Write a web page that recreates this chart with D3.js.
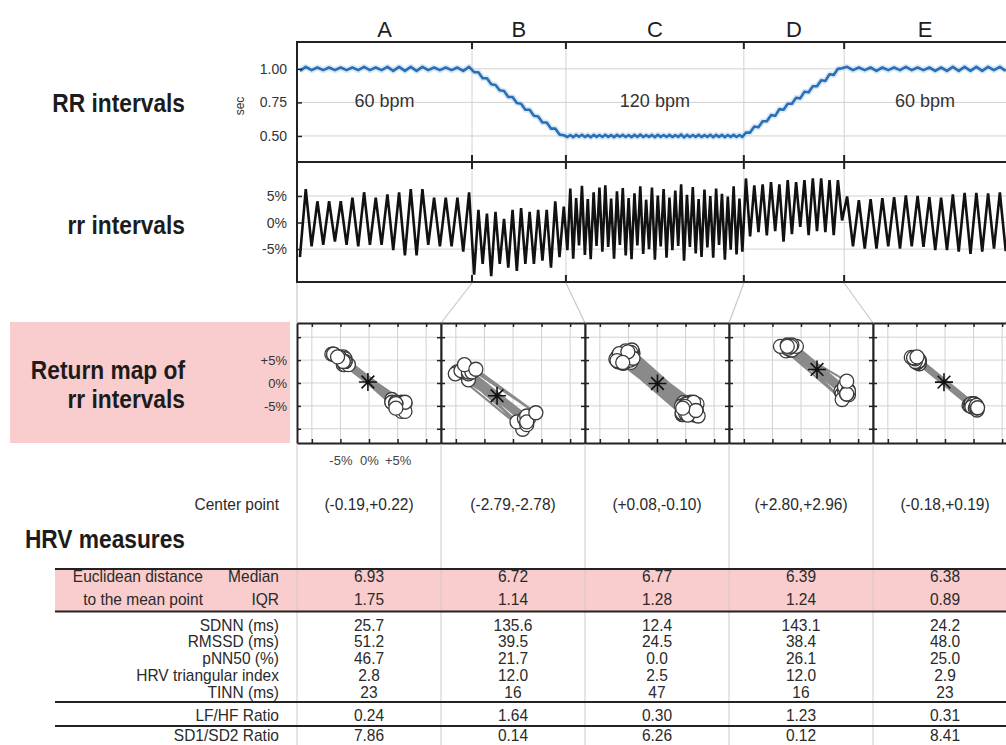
<!DOCTYPE html>
<html>
<head>
<meta charset="utf-8">
<script src="https://cdn.jsdelivr.net/npm/d3@7"></script>
<style>
  body { margin: 0; background: #fff; }
  svg { display: block; font-family: "Liberation Sans", Arial, sans-serif; }
</style>
</head>
<body>
<svg id="chart" width="1006" height="745"></svg>
<script>
// ---------------------------------------------------------------
// Data
// ---------------------------------------------------------------
const segments = ["A", "B", "C", "D", "E"];
// segment limits on the time axis (seconds)
const segmentBounds = [0, 30, 46.1, 76.6, 93.8, 122];
const rateLabels = ["60 bpm", "", "120 bpm", "", "60 bpm"];

// beat-to-beat RR intervals (sec), one array per segment
const RR_A = [0.985, 1.015, 0.99, 1.01, 0.99, 1.01, 0.99, 1.01, 0.99, 1.01,
              0.99, 1.015, 0.99, 1.01, 0.99, 1.015, 0.985, 1.015, 0.985, 1.015,
              0.985, 1.015, 0.99, 1.01, 0.99, 1.01, 0.99, 1.01, 0.985, 1.015];
const RR_B = [0.975, 0.975, 0.93, 0.93, 0.885, 0.88, 0.84, 0.835, 0.79, 0.79,
              0.745, 0.74, 0.695, 0.695, 0.65, 0.645, 0.60, 0.60, 0.555, 0.555,
              0.51, 0.505];
const RR_C = [0.492, 0.507, 0.491, 0.508, 0.494, 0.509, 0.492, 0.506, 0.490, 0.508,
              0.493, 0.507, 0.492, 0.509, 0.493, 0.506, 0.491, 0.508, 0.494, 0.508,
              0.492, 0.507, 0.491, 0.508, 0.493, 0.510, 0.492, 0.506, 0.493, 0.508,
              0.490, 0.509, 0.493, 0.507, 0.492, 0.508, 0.492, 0.506, 0.493, 0.511,
              0.489, 0.508, 0.492, 0.507, 0.493, 0.509, 0.492, 0.506, 0.493, 0.509,
              0.491, 0.508, 0.493, 0.508, 0.491, 0.507, 0.493, 0.508, 0.492, 0.507,
              0.493];
const RR_D = [0.525, 0.525, 0.57, 0.565, 0.61, 0.61, 0.655, 0.65, 0.70, 0.695,
              0.74, 0.74, 0.785, 0.78, 0.83, 0.825, 0.87, 0.87, 0.915, 0.91,
              0.96, 0.955, 1.00, 1.005];
const RR_E = [1.015, 0.99, 1.01, 0.99, 1.01, 0.985, 1.01, 0.99, 1.01, 0.99,
              1.015, 0.99, 1.01, 0.99, 1.01, 0.985, 1.01, 0.985, 1.015, 0.985,
              1.015, 0.985, 1.015, 0.985, 1.015, 0.99, 1.015, 0.985];

// relative rr intervals (%), one value per beat
const rr_A = [-6.5, 6.3, -4.5, 4.0, -4.2, 4.0, -3.6, 4.0, -4.2, 4.7,
              -4.5, 5.7, -4.2, 4.7, -4.2, 5.3, -5.2, 5.7, -6.2, 6.3,
              -6.2, 6.3, -4.2, 4.7, -4.5, 4.7, -4.5, 4.7, -5.5, 5.7];
const rr_B = [-9.8, 2.4, -7.8, 1.7, -10.1, 2.0, -7.8, 0.7, -8.5, 2.4,
              -9.1, 2.7, -7.8, 2.0, -7.8, 2.4, -7.2, 2.4, -8.5, 4.0,
              -6.5, 3.0];
const rr_C = [-5.2, 6.4, -6.8, 4.6, -4.3, 6.9, -6.1, 4.4, -6.9, 5.7,
              -4.4, 6.6, -5.5, 7.0, -4.6, 4.5, -6.8, 5.9, -4.2, 6.5,
              -6.2, 4.6, -6.9, 5.5, -4.3, 6.8, -5.9, 4.3, -5.0, 6.6,
              -7.0, 5.1, -4.5, 6.3, -6.6, 4.7, -5.2, 6.0, -4.4, 7.2,
              -7.2, 5.2, -4.6, 6.7, -5.8, 4.4, -6.5, 6.2, -4.7, 5.0,
              -6.6, 6.4, -4.2, 5.4, -7.0, 4.9, -5.1, 6.8, -6.0, 4.5,
              -5.5];
const rr_D = [8.3, -2.6, 7.0, -1.8, 7.2, -2.4, 7.6, -1.6, 7.2, -3.6,
              8.0, -2.2, 7.6, -0.8, 8.0, -2.4, 8.3, -1.6, 8.3, -1.8,
              8.0, -2.4, 8.0, 0.4];
const rr_E = [4.9, -4.5, 4.2, -4.9, 4.4, -4.9, 4.6, -4.5, 4.8, -4.9,
              5.1, -4.5, 5.0, -4.6, 4.8, -5.2, 4.7, -5.2, 5.3, -5.5,
              5.6, -5.9, 5.6, -5.5, 5.5, -4.9, 5.7, -5.4];

// HRV measures per segment
const centerX = [-0.19, -2.79, 0.08, 2.80, -0.18];
const centerY = [0.22, -2.78, -0.10, 2.96, 0.19];
const distMedian = [6.93, 6.72, 6.77, 6.39, 6.38];
const distIQR = [1.75, 1.14, 1.28, 1.24, 0.89];
const sdnn = [25.7, 135.6, 12.4, 143.1, 24.2];
const rmssd = [51.2, 39.5, 24.5, 38.4, 48.0];
const pnn50 = [46.7, 21.7, 0.0, 26.1, 25.0];
const triIndex = [2.8, 12.0, 2.5, 12.0, 2.9];
const tinn = [23, 16, 47, 16, 23];
const lfhf = [0.24, 1.64, 0.30, 1.23, 0.31];
const sd1sd2 = [7.86, 0.14, 6.26, 0.12, 8.41];

// tick values
const rrTicks = [0.50, 0.75, 1.00];
const relTicks = [-5, 0, 5];
const mapGrid = [-10, -5, 0, 5, 10];
const mapLabelTicks = [-5, 0, 5];

// ---------------------------------------------------------------
// Layout
// ---------------------------------------------------------------
const svg = d3.select("#chart");
const left = 297, right = 1012;
const rrTop = 42, rrBottom = 162, relTop = 162, relBottom = 282;
const mapTop = 323, mapBottom = 443, mapW = 144;
const ink = "#222", gridCol = "#d2d2d2", pink = "#f9cdcd";
const fontMain = '"Liberation Sans", Arial, sans-serif';

const x = d3.scaleLinear().domain([0, 122]).range([left, left + 122 * 175 / 30]);
const yRR = d3.scaleLinear().domain([0.306, 1.2]).range([rrBottom, rrTop]);
const yrr = d3.scaleLinear().domain([-11.2, 11.4]).range([relBottom, relTop]);

function txt(parent, px, py, s, o = {}) {
  return parent.append("text")
    .attr("transform", `translate(${px},${py}) scale(${o.sx || 1},1)`)
    .attr("text-anchor", o.anchor || "start")
    .attr("font-size", o.size || 14)
    .attr("font-weight", o.weight || "normal")
    .attr("fill", o.fill || ink)
    .text(s);
}

// beats with their time stamps inside each segment
const RRsets = [RR_A, RR_B, RR_C, RR_D, RR_E];
const rrSets = [rr_A, rr_B, rr_C, rr_D, rr_E];
const beats = [];
segments.forEach((s, i) => {
  const t0 = segmentBounds[i], t1 = segmentBounds[i + 1], n = RRsets[i].length;
  RRsets[i].forEach((v, j) => beats.push({ t: t0 + (j + 0.5) * (t1 - t0) / n, RR: v, rr: rrSets[i][j] }));
});

// ---------------------------------------------------------------
// Left-hand row titles
// ---------------------------------------------------------------
svg.append("rect").attr("x", 10).attr("y", 322).attr("width", 280).attr("height", 121).attr("fill", pink);
const titleOpts = { size: 25, weight: "bold", anchor: "end", sx: 0.91, fill: "#1c1c1c" };
txt(svg, 185, 112, "RR intervals", titleOpts);
txt(svg, 185, 234, "rr intervals", titleOpts);
txt(svg, 185, 379, "Return map of", titleOpts);
txt(svg, 185, 408, "rr intervals", titleOpts);
txt(svg, 185, 548, "HRV measures", titleOpts);

// ---------------------------------------------------------------
// Time-series panels
// ---------------------------------------------------------------
const ts = svg.append("g");
ts.append("clipPath").attr("id", "tsclip").append("rect")
  .attr("x", left).attr("y", rrTop).attr("width", right - left).attr("height", relBottom - rrTop);

// horizontal grid
ts.selectAll(".gRR").data(rrTicks).join("line")
  .attr("x1", left).attr("x2", right).attr("y1", d => yRR(d)).attr("y2", d => yRR(d))
  .attr("stroke", gridCol).attr("stroke-width", 1);
ts.selectAll(".grr").data(relTicks).join("line")
  .attr("x1", left).attr("x2", right).attr("y1", d => yrr(d)).attr("y2", d => yrr(d))
  .attr("stroke", gridCol).attr("stroke-width", 1);

// segment boundaries
const inner = segmentBounds.slice(1, 5);
ts.selectAll(".gseg").data(inner).join("line")
  .attr("x1", d => x(d)).attr("x2", d => x(d)).attr("y1", rrTop).attr("y2", relBottom)
  .attr("stroke", gridCol).attr("stroke-width", 1);

// segment letters and heart rate labels
segments.forEach((s, i) => {
  const cx = (x(segmentBounds[i]) + Math.min(x(segmentBounds[i + 1]), 1006)) / 2;
  txt(svg, cx, 37, s, { size: 22, anchor: "middle", fill: "#1e1e1e" });
  if (rateLabels[i]) txt(svg, cx, 107, rateLabels[i], { size: 18, anchor: "middle", fill: "#333" });
});

// RR line
const lineRR = d3.line().x(d => x(d.t)).y(d => yRR(d.RR));
ts.append("path").datum(beats).attr("d", lineRR).attr("clip-path", "url(#tsclip)")
  .attr("fill", "none").attr("stroke", "#b4d4f0").attr("stroke-width", 6).attr("opacity", 0.5)
  .attr("stroke-linejoin", "round");
ts.append("path").datum(beats).attr("d", lineRR).attr("clip-path", "url(#tsclip)")
  .attr("fill", "none").attr("stroke", "#2a6fb4").attr("stroke-width", 2.6)
  .attr("stroke-linejoin", "round");

// rr line
const linerr = d3.line().x(d => x(d.t)).y(d => yrr(d.rr));
ts.append("path").datum(beats).attr("d", linerr).attr("clip-path", "url(#tsclip)")
  .attr("fill", "none").attr("stroke", "#111").attr("stroke-width", 2.6)
  .attr("stroke-linejoin", "miter");

// panel frames
[rrTop, rrBottom, relBottom].forEach(yy => {
  ts.append("line").attr("x1", left).attr("x2", right).attr("y1", yy).attr("y2", yy)
    .attr("stroke", ink).attr("stroke-width", 2);
});
// boundary ticks on frames
inner.forEach(t => {
  const xx = x(t);
  [[rrTop, rrTop + 7], [rrBottom - 7, rrBottom + 7], [relBottom - 7, relBottom]].forEach(([a, b]) => {
    ts.append("line").attr("x1", xx).attr("x2", xx).attr("y1", a).attr("y2", b)
      .attr("stroke", ink).attr("stroke-width", 2);
  });
});

// y axes
function styleAxis(g, size) {
  g.selectAll("text").attr("font-size", size).attr("font-family", fontMain).attr("fill", "#333");
  g.selectAll("line").attr("stroke", ink).attr("stroke-width", 1.5);
  g.select(".domain").attr("stroke", ink).attr("stroke-width", 2);
}
ts.append("g").attr("transform", `translate(${left},0)`)
  .call(d3.axisLeft(yRR).tickValues(rrTicks).tickFormat(d3.format(".2f"))
        .tickSizeInner(-5).tickSizeOuter(0).tickPadding(10))
  .call(g => styleAxis(g, 14))
  .call(g => g.select(".domain").remove());
ts.append("g").attr("transform", `translate(${left},0)`)
  .call(d3.axisLeft(yrr).tickValues(relTicks).tickFormat(d => d + "%")
        .tickSizeInner(-5).tickSizeOuter(0).tickPadding(10))
  .call(g => styleAxis(g, 14))
  .call(g => g.select(".domain").remove());
ts.append("line").attr("x1", left).attr("x2", left).attr("y1", rrTop - 1).attr("y2", relBottom + 1)
  .attr("stroke", ink).attr("stroke-width", 2);

svg.append("text").attr("transform", "translate(244,106) rotate(-90)")
  .attr("text-anchor", "middle").attr("font-size", 12).attr("fill", "#333").text("sec");

// ---------------------------------------------------------------
// Connectors between the time series and the return maps
// ---------------------------------------------------------------
const panelX = d3.range(6).map(i => left + i * mapW);
segmentBounds.slice(0, 5).forEach((t, i) => {
  svg.append("line").attr("x1", x(t)).attr("y1", relBottom + 1).attr("x2", panelX[i]).attr("y2", mapTop)
    .attr("stroke", "#c8c8c8").attr("stroke-width", 1.2);
});

// ---------------------------------------------------------------
// Return maps
// ---------------------------------------------------------------
segments.forEach((s, i) => {
  const x0 = panelX[i];
  const mx = d3.scaleLinear().domain([-12.6, 12.6]).range([x0, x0 + mapW]);
  const my = d3.scaleLinear().domain([-13.1, 13.1]).range([mapBottom, mapTop]);
  const g = svg.append("g");
  const cid = "mapclip" + i;
  g.append("clipPath").attr("id", cid).append("rect")
    .attr("x", x0).attr("y", mapTop).attr("width", mapW).attr("height", mapBottom - mapTop);

  g.append("rect").attr("x", x0).attr("y", mapTop).attr("width", mapW).attr("height", mapBottom - mapTop)
    .attr("fill", "#fff");
  g.selectAll(".vx").data(mapGrid).join("line")
    .attr("x1", d => mx(d)).attr("x2", d => mx(d)).attr("y1", mapTop).attr("y2", mapBottom)
    .attr("stroke", gridCol).attr("stroke-width", 1);
  g.selectAll(".hy").data(mapGrid).join("line")
    .attr("x1", x0).attr("x2", x0 + mapW).attr("y1", d => my(d)).attr("y2", d => my(d))
    .attr("stroke", gridCol).attr("stroke-width", 1);

  const series = rrSets[i];
  const pts = d3.range(series.length - 1).map(j => [series[j], series[j + 1]]);
  const pg = g.append("g").attr("clip-path", `url(#${cid})`);
  pg.append("path").datum(pts)
    .attr("d", d3.line().x(d => mx(d[0])).y(d => my(d[1])))
    .attr("fill", "none").attr("stroke", "#8a8a8a").attr("stroke-width", 2.2);
  pg.selectAll("circle").data(pts).join("circle")
    .attr("cx", d => mx(d[0])).attr("cy", d => my(d[1])).attr("r", 7)
    .attr("fill", "#fff").attr("stroke", "#3a3a3a").attr("stroke-width", 1.3);

  // mean point
  const cx = mx(centerX[i]), cy = my(centerY[i]), r = 9, q = r * Math.SQRT1_2;
  pg.append("path")
    .attr("d", `M${cx - r},${cy}H${cx + r}M${cx},${cy - r}V${cy + r}` +
               `M${cx - q},${cy - q}L${cx + q},${cy + q}M${cx - q},${cy + q}L${cx + q},${cy - q}`)
    .attr("stroke", "#111").attr("stroke-width", 1.6).attr("fill", "none");

  // frame with inward ticks
  const frame = (axis, tr) => g.append("g").attr("transform", tr)
    .call(axis.tickValues(mapGrid).tickSizeInner(-4).tickSizeOuter(0).tickFormat(""))
    .call(a => { a.selectAll("line").attr("stroke", ink).attr("stroke-width", 1.5);
                 a.select(".domain").attr("stroke", ink).attr("stroke-width", 2); });
  frame(d3.axisTop(mx), `translate(0,${mapTop})`);
  frame(d3.axisBottom(mx), `translate(0,${mapBottom})`);
  frame(d3.axisLeft(my), `translate(${x0},0)`);
  frame(d3.axisRight(my), `translate(${x0 + mapW},0)`);

  if (i === 0) {
    g.append("g").attr("transform", `translate(${x0},0)`)
      .call(d3.axisLeft(my).tickValues(mapLabelTicks).tickSize(0).tickPadding(10)
            .tickFormat(d => (d > 0 ? "+" : "") + d + "%"))
      .call(a => { a.select(".domain").remove();
                   a.selectAll("text").attr("font-size", 13).attr("font-family", fontMain).attr("fill", "#333"); });
    g.append("g").attr("transform", `translate(0,${mapBottom})`)
      .call(d3.axisBottom(mx).tickValues(mapLabelTicks).tickSize(0).tickPadding(13)
            .tickFormat(d => (d > 0 ? "+" : "") + d + "%"))
      .call(a => { a.select(".domain").remove();
                   a.selectAll("text").attr("font-size", 13).attr("font-family", fontMain).attr("fill", "#444"); });
  }
});

// ---------------------------------------------------------------
// HRV table
// ---------------------------------------------------------------
const tbl = svg.append("g");
const colCenter = segments.map((s, i) => panelX[i] + mapW / 2);
const tableLeft = 55;

tbl.append("rect").attr("x", tableLeft).attr("y", 569).attr("width", 1006 - tableLeft).attr("height", 42)
  .attr("fill", pink);

// column rules
panelX.slice(0, 5).forEach(px => {
  tbl.append("line").attr("x1", px).attr("x2", px).attr("y1", mapBottom + 1).attr("y2", 745)
    .attr("stroke", "#cbcbcb").attr("stroke-width", 1);
});
// row rules
[569, 611.5, 702, 726].forEach(yy => {
  tbl.append("line").attr("x1", tableLeft).attr("x2", 1006).attr("y1", yy).attr("y2", yy)
    .attr("stroke", ink).attr("stroke-width", 2);
});

const cellOpts = { size: 16, anchor: "middle", sx: 0.97, fill: "#2a2a2a" };
const labelOpts = { size: 16, anchor: "end", sx: 0.97, fill: "#2a2a2a" };
const signed = v => d3.format("+.2f")(v).replace("\u2212", "-");

txt(tbl, 279, 510, "Center point", labelOpts);
segments.forEach((s, i) => txt(tbl, colCenter[i], 510, `(${signed(centerX[i])},${signed(centerY[i])})`, cellOpts));

txt(tbl, 203, 582, "Euclidean distance", labelOpts);
txt(tbl, 203, 605, "to the mean point", labelOpts);
txt(tbl, 279, 582, "Median", labelOpts);
txt(tbl, 279, 605, "IQR", labelOpts);
segments.forEach((s, i) => {
  txt(tbl, colCenter[i], 582, d3.format(".2f")(distMedian[i]), cellOpts);
  txt(tbl, colCenter[i], 605, d3.format(".2f")(distIQR[i]), cellOpts);
});

const timeRows = [
  { label: "SDNN (ms)", values: sdnn, fmt: d3.format(".1f") },
  { label: "RMSSD (ms)", values: rmssd, fmt: d3.format(".1f") },
  { label: "pNN50 (%)", values: pnn50, fmt: d3.format(".1f") },
  { label: "HRV triangular index", values: triIndex, fmt: d3.format(".1f") },
  { label: "TINN (ms)", values: tinn, fmt: d3.format("d") }
];
timeRows.forEach((row, k) => {
  const by = 630.7 + k * 16.7;
  txt(tbl, 279, by, row.label, labelOpts);
  row.values.forEach((v, i) => txt(tbl, colCenter[i], by, row.fmt(v), cellOpts));
});

txt(tbl, 279, 720.5, "LF/HF Ratio", labelOpts);
txt(tbl, 279, 741, "SD1/SD2 Ratio", labelOpts);
segments.forEach((s, i) => {
  txt(tbl, colCenter[i], 720.5, d3.format(".2f")(lfhf[i]), cellOpts);
  txt(tbl, colCenter[i], 741, d3.format(".2f")(sd1sd2[i]), cellOpts);
});
</script>
</body>
</html>
